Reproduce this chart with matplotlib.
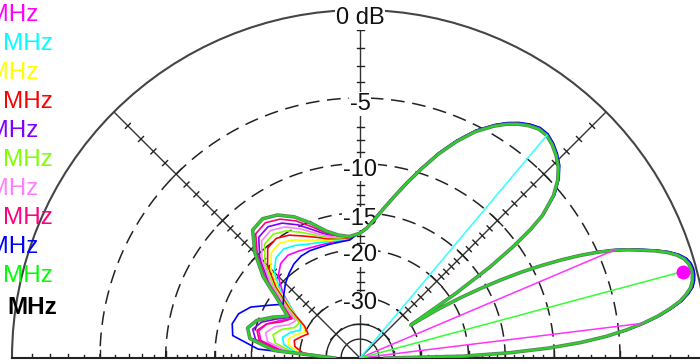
import numpy as np
import matplotlib.pyplot as plt
from matplotlib import patheffects as pe

plt.rcParams['font.family'] = ['Liberation Sans', 'DejaVu Sans']

# legend (left edge of the picture is cut off, only "MHz" shows)
freq_labels = ['28.10 MHz', '28.150 MHz', '28.20 MHz', '28.250 MHz', '28.30 MHz',
               '28.350 MHz', '28.40 MHz', '28.450 MHz', '28.50 MHz', '28.550 MHz']
freq_colors = ['#ff00ff', '#00ffff', '#ffff00', '#ff0000', '#8000ff',
               '#80ff00', '#ff80ff', '#ff0080', '#0000ff', '#00ff00']
main_freq = '28.300'

# elevation pattern, front half (shared shape), dB rel. max
front_elev = [0, 1, 2, 3, 4, 5, 6, 7, 8, 9, 10, 11, 12, 13, 14, 15, 16, 17, 18, 19,
              20, 21, 22, 23, 24, 25, 26, 27, 28, 29, 30, 31, 32, 33, 34, 35, 36, 37, 38,
              40, 42, 44, 46, 48, 50, 52, 54, 56, 58, 60, 63, 66, 69, 72, 75, 78, 81,
              84, 87, 90]
front_db = [-45, -21, -14.5, -10.5, -7.8, -5.9, -4.5, -3.4, -2.5, -1.8, -1.2, -0.8,
            -0.5, -0.35, -0.27, -0.25, -0.3, -0.45, -0.75, -1.2, -1.8, -2.5, -3.2,
            -4.0, -5.0, -6.2, -7.6, -9.2, -11.0, -13.2, -15.8, -18.8, -23, -30, -19,
            -13.5, -10.5, -8.4, -7.0, -5.5, -4.6, -4.0, -3.6, -3.3, -3.1, -3.1, -3.3,
            -3.6, -4.0, -4.5, -5.4, -6.6, -8.0, -9.6, -11.2, -12.8, -14.3, -15.7,
            -16.9, -17.6]
# small spread of the front lobes per frequency (dB above the green trace)
front_offset = [0.08, 0.1, 0.06, 0.05, 0.09, 0.04, 0.07, 0.05, 0.12, 0.0]

# back half, one list per frequency
back_elev = [95, 100, 105, 110, 115, 120, 125, 130, 135, 140, 145, 150, 155, 160,
             165, 170, 175, 180]
back_magenta = [-18.3, -18.4, -18.4, -18.3, -18.1, -17.8, -17.5, -17.8, -18.9, -21.3,
                -24.8, -25.5, -23.5, -21.5, -20.6, -21.3, -26.0, -45]
back_cyan = [-18.3, -18.3, -18.2, -17.9, -17.5, -16.9, -16.5, -16.8, -18.1, -20.8,
             -25.0, -28.0, -28.5, -26.5, -25.2, -25.8, -29.0, -45]
back_yellow = [-18.2, -18.2, -18.0, -17.5, -16.9, -16.1, -15.6, -15.9, -17.4, -20.3,
               -24.5, -28.5, -30.0, -28.0, -26.5, -27.0, -30.0, -45]
back_red = [-18.2, -18.1, -17.8, -17.1, -16.3, -15.4, -14.9, -15.2, -16.8, -19.8,
            -24.0, -29.0, -31.0, -29.5, -28.0, -28.5, -31.0, -45]
back_purple = [-18.0, -17.8, -17.2, -16.1, -14.8, -13.8, -13.3, -13.6, -15.4, -18.3,
               -22.3, -25.0, -22.8, -20.6, -19.6, -20.4, -25.0, -45]
back_ygreen = [-18.1, -18.0, -17.6, -16.8, -15.8, -14.8, -14.3, -14.6, -16.3, -19.2,
               -23.4, -27.5, -27.0, -24.5, -23.2, -24.0, -28.0, -45]
back_pink = [-18.1, -17.9, -17.4, -16.5, -15.3, -14.3, -13.8, -14.1, -15.8, -18.7,
             -22.8, -26.5, -25.5, -23.0, -21.8, -22.5, -27.0, -45]
back_rose = [-18.0, -17.7, -17.0, -15.7, -14.3, -13.3, -12.8, -13.1, -15.0, -17.9,
             -22.0, -25.5, -24.0, -21.5, -20.3, -21.0, -25.5, -45]
back_blue = [-18.5, -18.6, -18.6, -18.6, -18.5, -18.6, -19.0, -19.7, -20.5, -21.5,
             -22.5, -20.5, -18.2, -17.0, -16.6, -17.0, -21.0, -45]
back_green = [-18.0, -17.6, -16.7, -15.2, -13.8, -12.8, -12.3, -12.6, -14.6, -17.4,
              -21.5, -24.5, -22.0, -19.8, -18.8, -19.5, -24.0, -45]
back_all = [back_magenta, back_cyan, back_yellow, back_red, back_purple,
            back_ygreen, back_pink, back_rose, back_blue, back_green]

# markers: max direction, -3 dB beamwidth, second lobe
peak_elev = 15
cursor_db = -0.7
bw_elev = [7, 23]
lobe2_elev = 50

ring_db = [-5, -10, -15, -20, -30]
solid_ring_db = [-40, -50]
small_tick_db = [-1, -2, -3, -4, -6, -7, -8, -9, -11, -12, -13, -14, -16, -17,
                 -18, -19, -22, -24, -26, -28]
cross_db = [-5, -10, -15, -20, -30, -40]
spoke_elev = [0, 45, 90, 135, 180]
R_PX = 348.0


def arrl(db):
    # ARRL log scale: radius x 0.89 every 2 dB
    return 0.89 ** (-np.asarray(db, dtype=float) / 2.0)


fig = plt.figure(figsize=(7, 3.64), dpi=100)
# polar wedge is centred in a square box: half-disc sits in the middle of it
ax = fig.add_axes([12 / 700, -168 / 364, 696 / 700, 696 / 364], projection='polar')
ax.set_thetamin(0)
ax.set_thetamax(180)
ax.set_ylim(0, 1)
ax.grid(False)
ax.set_yticks([])
ax.set_xticks(np.deg2rad(np.arange(0, 181, 5)))
ax.set_xticklabels([])
ax.tick_params(axis='x', direction='in', length=5, width=1, colors='#444')
ax.spines['polar'].set_color('#444')
ax.spines['polar'].set_linewidth(1.5)
for s in ['start', 'end']:
    ax.spines[s].set_color('#222')
    ax.spines[s].set_linewidth(1.5)
ax.spines['inner'].set_visible(False)

th = np.linspace(0, np.pi, 400)
for d in ring_db:
    ax.plot(th, np.full_like(th, arrl(d)), color='#222', lw=1.1, ls=(0, (9, 5)), zorder=1)
for d in solid_ring_db:
    ax.plot(th, np.full_like(th, arrl(d)), color='#222', lw=1.0, zorder=1)
for a in spoke_elev[1:-1]:
    ax.plot([np.deg2rad(a)] * 2, [0, 1], color='#333', lw=1.0, zorder=1)


def tick(a, r, h):
    t = np.deg2rad(a)
    d = np.arctan2(h, r)
    rr = np.hypot(r, h)
    ax.plot([t - d, t, t + d], [rr, r, rr], color='#222', lw=1.0, zorder=1)


for a in spoke_elev:
    for d in small_tick_db:
        tick(a, arrl(d), 3.5 / R_PX)
    for d in cross_db:
        tick(a, arrl(d), 7.5 / R_PX)

# scale labels
lab_kw = dict(ha='center', va='center', fontsize=17, color='#111', zorder=3,
              bbox=dict(facecolor='white', edgecolor='none', pad=0.5))
ax.text(np.pi / 2, 340 / R_PX, '0 dB', **lab_kw)
for d in ring_db:
    ax.text(np.pi / 2, arrl(d) - 6 / R_PX, str(d), **lab_kw)

# pattern traces (green last, on top, with a dark edge)
for col, off, back in zip(freq_colors, front_offset, back_all):
    elev = np.deg2rad(front_elev + back_elev)
    db = list(np.array(front_db) + off) + back
    kw = dict(color=col, lw=1.2, zorder=4)
    if col == '#00ff00':
        kw.update(color='#2bd02b', lw=1.5, zorder=5,
                  path_effects=[pe.withStroke(linewidth=2.6, foreground='#5f7f5f')])
    ax.plot(elev, arrl(db), **kw)

# marker lines from origin
r_of = dict(zip(front_elev, front_db))
for a in bw_elev:
    ax.plot([np.deg2rad(a)] * 2, [0, arrl(r_of[a])], color='#ff33ff', lw=1.1, zorder=6)
ax.plot([np.deg2rad(lobe2_elev)] * 2, [0, arrl(r_of[lobe2_elev])], color='#33ffff',
        lw=1.1, zorder=6)
ax.plot([np.deg2rad(peak_elev)] * 2, [0, arrl(cursor_db)], color='#33ff33', lw=1.1, zorder=6)
ax.plot(np.deg2rad(peak_elev), arrl(cursor_db), 'o', color='#ff00ff', ms=9, zorder=7)

# legend text, cut at the left border
leg_right = [38, 53, 38, 53, 38, 53, 38, 53, 38, 53]
leg_y = [15, 44, 73, 102, 131, 160, 189, 218, 247, 276]
for lab, col, xr, yp in zip(freq_labels, freq_colors, leg_right, leg_y):
    fig.text(xr / 700, 1 - yp / 364, lab, color=col, fontsize=17.5, ha='right', va='center')
fig.text(0, 1 - 307 / 364, main_freq, color='black', fontsize=17.5,
         fontweight='bold', ha='right', va='center')
fig.text(57 / 700, 1 - 307 / 364, 'MHz', color='black', fontsize=17.5,
         fontweight='bold', ha='right', va='center')

fig.savefig('out.png', dpi=100)
